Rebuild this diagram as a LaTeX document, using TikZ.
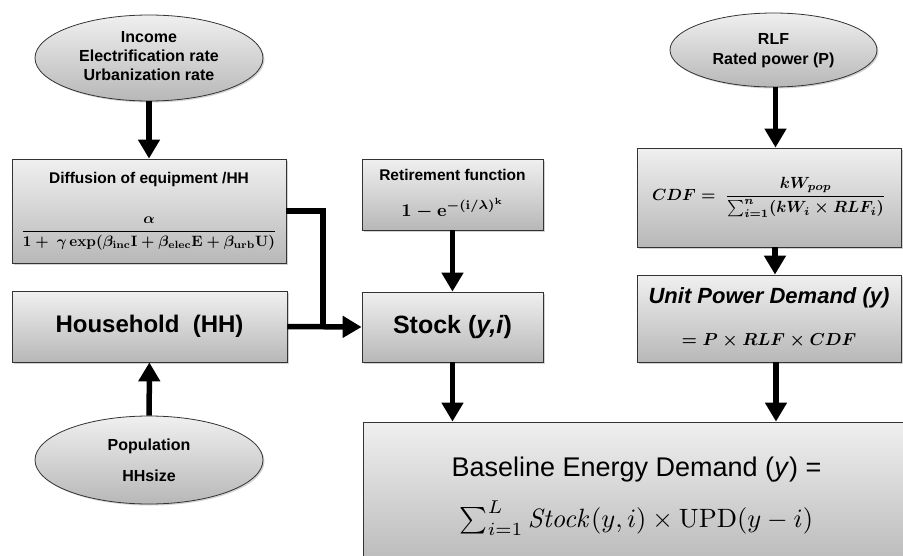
\documentclass[tikz,border=0pt]{standalone}
\usepackage{amsmath,amssymb}
\usepackage{graphicx}
\usepackage[no-math]{fontspec}
\setmainfont{Liberation Sans}
\usetikzlibrary{shapes.geometric,arrows.meta,shadows}
\tikzset{
  greyfill/.style={draw=black!80, line width=0.8pt, top color=black!6, bottom color=black!28,
     drop shadow={shadow xshift=1.5pt, shadow yshift=-1.5pt, opacity=0.35}},
  box/.style={greyfill, rectangle, inner sep=0pt},
  ell/.style={greyfill, ellipse, inner sep=0pt},
  conn/.style={line width=5.5pt, -{Triangle[width=21pt,length=19pt]}},
  seg/.style={line width=5.5pt},
}
\newcommand{\difffrac}{\ensuremath{\dfrac{\alpha}{\mathbf{1}+\ \gamma\,\mathbf{exp}(\beta_{\mathbf{inc}}\mathbf{I}+\beta_{\mathbf{elec}}\mathbf{E}+\beta_{\mathbf{urb}}\mathbf{U})}}}
\newcommand{\retfrm}{\ensuremath{\mathbf{1}-\mathbf{e}^{-(\mathbf{i}/\lambda)^{\mathbf{k}}}}}
\newcommand{\cdffrm}{\ensuremath{CDF =\ \dfrac{kW_{pop}}{\sum_{i=1}^{n}(kW_i\times RLF_i)}}}
\newcommand{\updfrm}{\ensuremath{= P\times RLF\times CDF}}
\newcommand{\basefrm}{\ensuremath{\sum_{i=1}^{L}\mathit{Stock}(y,i)\times\mathrm{UPD}(y-i)}}
\begin{document}
\begin{tikzpicture}[x=1pt,y=-1pt]
\clip (0,0) rectangle (903,555);
\fill[white] (0,0) rectangle (903,555);
% left column
\node[ell, minimum width=228pt, minimum height=86pt] (inc) at (149,58)
  {\fontsize{16}{19}\selectfont\bfseries
   \begin{tabular}{@{}c@{}}Income\\Electrification rate\\Urbanization rate\end{tabular}};
\node[box, minimum width=274pt, minimum height=104pt] (diff) at (149,211)
  {\raisebox{-8pt}{\begin{tabular}{@{}c@{}}\fontsize{15.5}{18}\selectfont\bfseries Diffusion of equipment /HH\\[30pt]
   \boldmath\scalebox{1.5}{\difffrac}\end{tabular}}};
\node[box, minimum width=275pt, minimum height=71pt] (house) at (149.5,326.5)
  {\fontsize{24}{26}\selectfont\bfseries Household\ \ (HH)};
\node[ell, minimum width=228pt, minimum height=88pt] (pop) at (149,460)
  {\fontsize{16}{31}\selectfont\bfseries
   \begin{tabular}{@{}c@{}}Population\\HHsize\end{tabular}};
% middle column
\node[box, minimum width=181pt, minimum height=71pt] (ret) at (452.5,194.5)
  {\begin{tabular}{@{}c@{}}\fontsize{15.5}{18}\selectfont\bfseries Retirement function\\[14pt]
   \boldmath\scalebox{1.8}{\retfrm}\end{tabular}};
\node[box, minimum width=181pt, minimum height=70pt] (stock) at (452.5,327)
  {\fontsize{25}{28}\selectfont\bfseries Stock (\textit{y,i})};
% right column
\node[ell, minimum width=207pt, minimum height=74pt] (rlf) at (773.5,50)
  {\fontsize{16}{20}\selectfont\bfseries
   \begin{tabular}{@{}c@{}}RLF\\Rated power (P)\end{tabular}};
\node[box, minimum width=264pt, minimum height=99pt] (cdf) at (769,197.5)
  {\raisebox{4pt}{\begin{tabular}{@{}c@{}}\boldmath\scalebox{1.62}{\cdffrm}\end{tabular}}};
\node[box, minimum width=264pt, minimum height=87pt] (upd) at (769,318.5)
  {\begin{tabular}{@{}c@{}}\fontsize{22}{24}\selectfont\bfseries\itshape Unit Power Demand (y)\\[26pt]
   \boldmath\scalebox{1.73}{\updfrm}\end{tabular}};
% bottom
\node[box, minimum width=547pt, minimum height=148pt] (base) at (636.5,496)
  {\raisebox{-3pt}{\begin{tabular}{@{}c@{}}\fontsize{27}{30}\selectfont Baseline Energy Demand (\textit{y}) =\\[21pt]
   \scalebox{2.65}{\basefrm}\end{tabular}}};
% connectors
\coordinate (merge) at (323,327);
\draw[conn] (inc) -- (diff);
\draw[conn] (pop) -- (house);
\draw[seg] (diff.east) -| (merge);
\draw[conn] (house.east) -- (stock.west);
\draw[conn] (ret) -- (stock);
\draw[conn] (stock.south) -- (stock.south |- base.north);
\draw[conn] ([xshift=2pt]rlf.south) -- ([xshift=2pt]rlf.south |- cdf.north);
\draw[conn] ([xshift=6pt]cdf.south) -- ([xshift=6pt]upd.north);
\draw[conn] ([xshift=7pt]upd.south) -- ([xshift=7pt]upd.south |- base.north);
\end{tikzpicture}
\end{document}
